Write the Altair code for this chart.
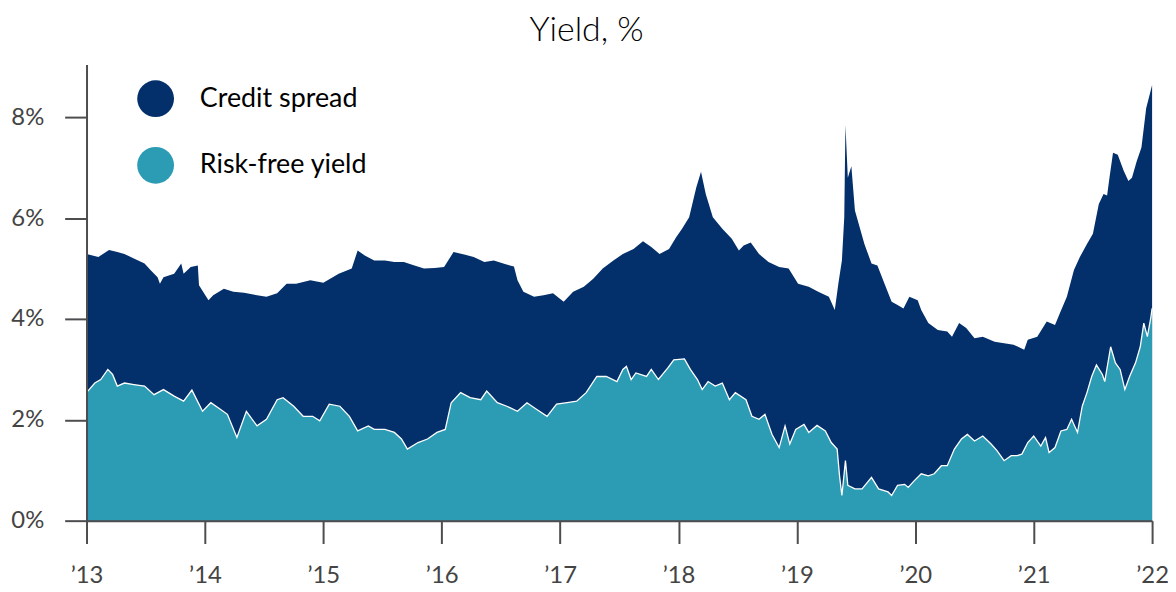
import altair as alt
import pandas as pd

# ---- data (x = position in years on the '13..'22 axis) ----
total_x = [
    2013.00, 2013.10, 2013.19, 2013.26, 2013.32, 2013.40, 2013.49, 2013.54, 2013.60, 2013.62,
    2013.65, 2013.74, 2013.80, 2013.82, 2013.88, 2013.94, 2013.95, 2014.03, 2014.07, 2014.16,
    2014.24, 2014.33, 2014.44, 2014.52, 2014.61, 2014.69, 2014.77, 2014.89, 2015.00, 2015.13,
    2015.24, 2015.29, 2015.35, 2015.43, 2015.52, 2015.60, 2015.68, 2015.77, 2015.85, 2015.94,
    2016.02, 2016.10, 2016.19, 2016.27, 2016.36, 2016.44, 2016.52, 2016.61, 2016.64, 2016.69,
    2016.78, 2016.86, 2016.94, 2017.03, 2017.11, 2017.20, 2017.28, 2017.36, 2017.45, 2017.53,
    2017.62, 2017.70, 2017.77, 2017.84, 2017.92, 2017.98, 2018.03, 2018.09, 2018.15, 2018.19,
    2018.23, 2018.29, 2018.37, 2018.45, 2018.51, 2018.55, 2018.61, 2018.68, 2018.76, 2018.85,
    2018.93, 2019.01, 2019.10, 2019.18, 2019.27, 2019.32, 2019.35, 2019.38, 2019.40, 2019.41,
    2019.43, 2019.46, 2019.49, 2019.53, 2019.57, 2019.63, 2019.68, 2019.74, 2019.80, 2019.85,
    2019.90, 2019.95, 2020.02, 2020.05, 2020.11, 2020.19, 2020.27, 2020.31, 2020.37, 2020.43,
    2020.50, 2020.57, 2020.67, 2020.75, 2020.83, 2020.92, 2020.95, 2021.03, 2021.11, 2021.18,
    2021.22, 2021.28, 2021.34, 2021.39, 2021.45, 2021.50, 2021.55, 2021.59, 2021.62, 2021.64,
    2021.67, 2021.71, 2021.76, 2021.80, 2021.83, 2021.87, 2021.91, 2021.95, 2021.99, 2022.00,
]
# total yield = risk-free yield + credit spread (top of the navy area)
total_yield = [
    5.29, 5.23, 5.37, 5.33, 5.29, 5.20, 5.10, 4.97, 4.83, 4.70,
    4.83, 4.90, 5.10, 4.90, 5.03, 5.06, 4.67, 4.37, 4.47, 4.60,
    4.54, 4.52, 4.47, 4.44, 4.51, 4.70, 4.70, 4.77, 4.72, 4.90,
    5.00, 5.36, 5.26, 5.16, 5.16, 5.13, 5.13, 5.06, 5.00, 5.01,
    5.03, 5.33, 5.28, 5.23, 5.13, 5.16, 5.10, 5.04, 4.77, 4.54,
    4.44, 4.47, 4.51, 4.34, 4.54, 4.64, 4.80, 5.00, 5.16, 5.29,
    5.39, 5.54, 5.43, 5.29, 5.39, 5.62, 5.79, 6.02, 6.61, 6.92,
    6.48, 6.02, 5.79, 5.59, 5.36, 5.46, 5.52, 5.29, 5.13, 5.03,
    5.00, 4.70, 4.64, 4.54, 4.44, 4.18, 4.70, 5.16, 6.02, 7.85,
    6.80, 7.03, 6.15, 5.82, 5.49, 5.10, 5.06, 4.70, 4.34, 4.28,
    4.21, 4.44, 4.37, 4.18, 3.92, 3.78, 3.75, 3.65, 3.92, 3.82,
    3.62, 3.65, 3.55, 3.52, 3.49, 3.39, 3.59, 3.65, 3.95, 3.88,
    4.11, 4.44, 4.97, 5.23, 5.49, 5.69, 6.28, 6.48, 6.45, 6.80,
    7.30, 7.26, 6.94, 6.74, 6.80, 7.13, 7.40, 8.18, 8.55, 8.64,
]

rf_x = [
    2013.00, 2013.07, 2013.12, 2013.18, 2013.22, 2013.26, 2013.32, 2013.40, 2013.49, 2013.57,
    2013.65, 2013.74, 2013.82, 2013.89, 2013.98, 2014.05, 2014.13, 2014.19, 2014.27, 2014.35,
    2014.44, 2014.52, 2014.61, 2014.66, 2014.75, 2014.83, 2014.91, 2014.97, 2015.05, 2015.14,
    2015.22, 2015.29, 2015.38, 2015.43, 2015.52, 2015.60, 2015.66, 2015.71, 2015.80, 2015.88,
    2015.96, 2016.03, 2016.08, 2016.16, 2016.24, 2016.33, 2016.38, 2016.47, 2016.55, 2016.64,
    2016.72, 2016.80, 2016.89, 2016.97, 2017.06, 2017.14, 2017.22, 2017.31, 2017.39, 2017.48,
    2017.53, 2017.56, 2017.60, 2017.64, 2017.73, 2017.77, 2017.83, 2017.91, 2017.96, 2018.05,
    2018.10, 2018.16, 2018.20, 2018.25, 2018.31, 2018.37, 2018.43, 2018.48, 2018.57, 2018.62,
    2018.68, 2018.73, 2018.79, 2018.85, 2018.90, 2018.94, 2018.99, 2019.06, 2019.10, 2019.17,
    2019.24, 2019.29, 2019.34, 2019.36, 2019.38, 2019.41, 2019.43, 2019.49, 2019.55, 2019.63,
    2019.69, 2019.77, 2019.80, 2019.85, 2019.91, 2019.94, 2019.99, 2020.05, 2020.11, 2020.16,
    2020.22, 2020.27, 2020.33, 2020.39, 2020.44, 2020.50, 2020.57, 2020.64, 2020.69, 2020.75,
    2020.81, 2020.86, 2020.90, 2020.95, 2021.00, 2021.06, 2021.10, 2021.13, 2021.18, 2021.23,
    2021.28, 2021.32, 2021.37, 2021.41, 2021.45, 2021.49, 2021.53, 2021.58, 2021.60, 2021.65,
    2021.69, 2021.73, 2021.77, 2021.81, 2021.86, 2021.90, 2021.93, 2021.96, 2021.99, 2022.00,
]
risk_free_yield = [
    2.54, 2.73, 2.80, 3.00, 2.90, 2.67, 2.73, 2.70, 2.67, 2.50,
    2.60, 2.47, 2.37, 2.59, 2.17, 2.34, 2.21, 2.11, 1.65, 2.17,
    1.88, 2.01, 2.40, 2.44, 2.27, 2.07, 2.07, 1.98, 2.31, 2.27,
    2.07, 1.78, 1.88, 1.81, 1.81, 1.75, 1.62, 1.42, 1.55, 1.62,
    1.75, 1.81, 2.34, 2.54, 2.44, 2.40, 2.57, 2.34, 2.27, 2.17,
    2.34, 2.21, 2.07, 2.31, 2.34, 2.37, 2.54, 2.86, 2.86, 2.76,
    3.00, 3.06, 2.80, 2.93, 2.86, 3.00, 2.80, 3.03, 3.19, 3.21,
    3.00, 2.80, 2.60, 2.76, 2.67, 2.73, 2.40, 2.54, 2.40, 2.07,
    2.01, 2.11, 1.71, 1.45, 1.88, 1.52, 1.81, 1.91, 1.75, 1.89,
    1.78, 1.55, 1.42, 0.89, 0.50, 1.19, 0.70, 0.63, 0.63, 0.86,
    0.63, 0.57, 0.50, 0.70, 0.72, 0.66, 0.79, 0.93, 0.89, 0.93,
    1.09, 1.09, 1.42, 1.62, 1.71, 1.58, 1.68, 1.52, 1.39, 1.19,
    1.29, 1.29, 1.32, 1.55, 1.68, 1.48, 1.65, 1.35, 1.45, 1.78,
    1.81, 2.01, 1.75, 2.27, 2.54, 2.86, 3.09, 2.90, 2.76, 3.45,
    3.13, 3.00, 2.60, 2.86, 3.13, 3.45, 3.92, 3.65, 4.04, 4.21,
]

series_names = ["Credit spread", "Risk-free yield"]
series_colors = ["#032F6A", "#2C9CB5"]
year_ticks = list(range(2013, 2023))
yield_ticks = [0, 2, 4, 6, 8]

df_total = pd.DataFrame({"year": total_x, "yield": total_yield, "series": series_names[0]})
df_rf = pd.DataFrame({"year": rf_x, "yield": risk_free_yield, "series": series_names[1]})

FONT = "Lato"
AXIS_GREY = "#4d4d4f"

x_enc = alt.X(
    "year:Q",
    scale=alt.Scale(domain=[2013, 2022], nice=False, zero=False),
    axis=alt.Axis(
        values=year_ticks,
        labelExpr="'\u2019' + substring(toString(datum.value), 2)",
        title=None,
        tickSize=23,
        labelPadding=20,
        labelFlush=False,
        labelOverlap=False,
        grid=False,
        zindex=1,
    ),
)
y_enc = alt.Y(
    "yield:Q",
    scale=alt.Scale(domain=[0, 9.05], nice=False),
    axis=alt.Axis(
        values=yield_ticks,
        labelExpr="datum.value + '%'",
        title=None,
        tickSize=22,
        labelPadding=21,
        labelFlush=False,
        grid=False,
        zindex=1,
    ),
)
color_enc = alt.Color(
    "series:N",
    scale=alt.Scale(domain=series_names, range=series_colors),
    legend=alt.Legend(
        title=None,
        orient="none",
        legendX=51,
        legendY=16,
        symbolType="circle",
        symbolSize=1369,
        symbolStrokeWidth=0,
        symbolOpacity=1,
        labelFont=FONT,
        labelFontSize=27,
        labelColor="#000000",
        labelOffset=26,
        labelLimit=400,
        rowPadding=30,
    ),
)

area_total = alt.Chart(df_total).mark_area(opacity=1).encode(x=x_enc, y=y_enc, color=color_enc)
area_rf = alt.Chart(df_rf).mark_area(opacity=1).encode(x=x_enc, y=y_enc, color=color_enc)
line_rf = alt.Chart(df_rf).mark_line(color="white", strokeWidth=1.3).encode(x=x_enc, y=y_enc)

chart = (
    alt.layer(area_total, area_rf, line_rf)
    .properties(
        width=1072,
        height=459,
        autosize=alt.AutoSizeParams(type="none"),
        padding={"left": 79, "top": 55, "right": 16, "bottom": 70},
        title=alt.TitleParams(
            text="Yield, %",
            font=FONT,
            fontSize=34,
            fontWeight=300,
            color="#000000",
            anchor="middle",
            frame="group",
            dx=-33,
            offset=17,
        ),
    )
    .configure_view(stroke=None)
    .configure_axis(
        domainColor=AXIS_GREY,
        domainWidth=2,
        tickColor=AXIS_GREY,
        tickWidth=2,
        labelFont=FONT,
        labelFontSize=24,
        labelColor="#444444",
    )
)

chart.save("out.html", embed_options={"renderer": "svg", "actions": False})
